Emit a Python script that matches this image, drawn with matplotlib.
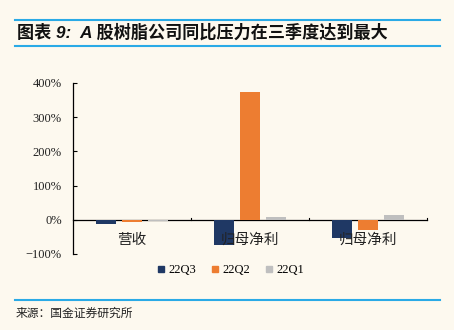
import matplotlib
matplotlib.use("Agg")
import matplotlib.pyplot as plt
from matplotlib.lines import Line2D
import numpy as np

plt.rcParams['font.family'] = ['Liberation Serif', 'Noto Sans CJK SC', 'DejaVu Sans']
plt.rcParams['axes.unicode_minus'] = True

categories = ['营收', '归母净利', '归母净利']
series_names = ['22Q3', '22Q2', '22Q1']
q3_values = [-13, -75, -53]
q2_values = [-5, 373, -31]
q1_values = [-4, 8, 13]
y_ticks = [-100, 0, 100, 200, 300, 400]
colors = ['#1F3864', '#ED7D31', '#BFBFBF']

title = '图表 9:  A 股树脂公司同比压力在三季度达到最大'
source = '来源：国金证券研究所'

bg = '#FDF9EF'
line_blue = '#2AAAE6'

fig = plt.figure(figsize=(4.54, 3.30), dpi=100, facecolor=bg)
ax = fig.add_axes([73/454, 1-254/330, (427-73)/454, (254-83)/330], facecolor=bg)

x = np.arange(len(categories))
width = 0.17
step = 0.22
for i, (vals, c) in enumerate(zip([q3_values, q2_values, q1_values], colors)):
    ax.bar(x + (i-1)*step, vals, width=width, color=c, zorder=2)

ax.set_xlim(-0.5, len(categories)-0.5)
ax.set_ylim(-100, 400)
ax.set_yticks(y_ticks)
ax.set_yticklabels([f'{v}%'.replace('-', '\u2212') for v in y_ticks], fontsize=9, color='#222222')
ax.tick_params(axis='y', direction='in', length=3, width=0.8, pad=8, left=True)

# category boundary ticks on the zero line
ax.set_xticks([])
for b in np.arange(0.5, len(categories), 1.0):
    ax.plot([b, b], [0, 6], color='black', lw=0.8, zorder=3, clip_on=False)

for s in ['top', 'right']:
    ax.spines[s].set_visible(False)
ax.spines['bottom'].set_position(('data', 0))
ax.spines['bottom'].set_linewidth(0.9)
ax.spines['bottom'].set_zorder(1.5)
ax.spines['left'].set_linewidth(0.9)

for xi, lab in zip(x, categories):
    ax.text(xi, -58, lab, ha='center', va='center', fontsize=10.5,
            family=['Noto Sans CJK SC'], color='#222222', zorder=4)

handles = [Line2D([], [], marker='s', linestyle='none', markersize=5,
                  markerfacecolor=c, markeredgecolor=c) for c in colors]
fig.legend(handles, series_names, loc='center', bbox_to_anchor=(229/454, 1-270/330),
           ncol=3, frameon=False, fontsize=9, handletextpad=0.1, columnspacing=1.0,
           handlelength=1.0)

# header and footer
fig.add_artist(Line2D([15/454, 440/454], [1-19.5/330]*2, color=line_blue, lw=1.5))
fig.add_artist(Line2D([15/454, 440/454], [1-45.5/330]*2, color=line_blue, lw=1.5))
fig.add_artist(Line2D([15/454, 440/454], [1-300/330]*2, color=line_blue, lw=1.5))
fig.text(17/454, 1-32/330, title, fontsize=12.3, fontweight='bold', style='italic',
         family=['Liberation Sans', 'Noto Sans CJK SC'], va='center', ha='left', color='#111111')
fig.text(16/454, 1-313/330, source, fontsize=8.5, family=['Noto Sans CJK SC'],
         va='center', ha='left', color='#222222')

fig.savefig('out.png', dpi=100, facecolor=bg)
